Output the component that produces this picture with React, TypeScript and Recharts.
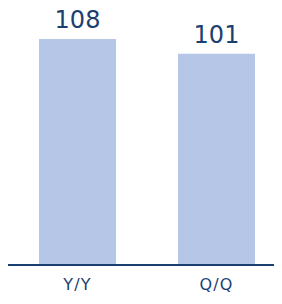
import React from "react";
import { BarChart, Bar, XAxis, YAxis, LabelList } from "recharts";

const categories = ["Y/Y", "Q/Q"];
const values = [108, 101];

const data = categories.map((name, i) => ({ name, value: values[i] }));

const NAVY = "#1c3f72";
const BAR = "#b6c6e6";

export default function App() {
  return (
    <div style={{ margin: -8, width: 282, height: 304, overflow: "hidden", fontFamily: "DejaVu Sans" }}>
      <BarChart
        width={292}
        height={304}
        data={data}
        margin={{ top: 39, right: 0, bottom: 0, left: 8 }}
      >
        <XAxis
          dataKey="name"
          height={39}
          padding={{ left: 0, right: 6 }}
          axisLine={{ stroke: NAVY, strokeWidth: 2 }}
          tickLine={false}
          tickMargin={8}
          tick={{ fill: NAVY, fontSize: 16, fontFamily: "DejaVu Sans", letterSpacing: 1.2 }}
        />
        <YAxis hide domain={[0, 108]} />
        <Bar dataKey="value" fill={BAR} barSize={77} isAnimationActive={false}>
          <LabelList
            dataKey="value"
            position="top"
            offset={11}
            fill={NAVY}
            fontSize={24}
            fontFamily="DejaVu Sans"
          />
        </Bar>
      </BarChart>
    </div>
  );
}
